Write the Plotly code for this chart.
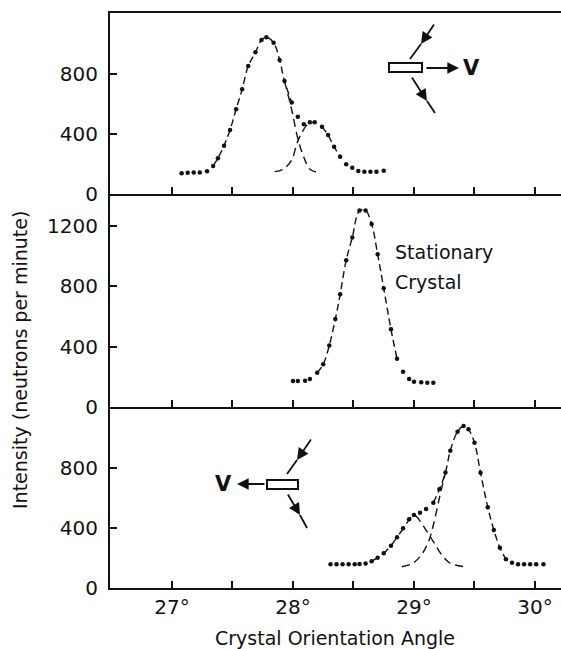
import plotly.graph_objects as go

# ---------------- data ----------------
# Top panel: crystal moving toward +V
top_angle = [27.08, 27.13, 27.18, 27.23, 27.29, 27.34, 27.38, 27.43, 27.48, 27.53,
             27.58, 27.63, 27.69, 27.74, 27.78, 27.84, 27.89, 27.93, 27.99, 28.04,
             28.09, 28.14, 28.18, 28.24, 28.29, 28.34, 28.39, 28.44, 28.49, 28.54,
             28.59, 28.64, 28.69, 28.75]
top_counts = [138, 142, 144, 144, 151, 187, 238, 322, 427, 565,
              698, 853, 945, 1027, 1045, 1009, 893, 753, 611, 515,
              465, 478, 478, 449, 393, 315, 249, 198, 175, 153,
              149, 149, 149, 155]
top_big_angle = [27.93, 27.99, 28.04, 28.09, 28.14, 28.20]
top_big_counts = [753, 560, 370, 245, 165, 145]
top_small_angle = [27.85, 27.92, 27.99, 28.03, 28.07, 28.13, 28.18]
top_small_counts = [149, 165, 227, 330, 405, 471, 478]

# Middle panel: stationary crystal
mid_angle = [28.00, 28.04, 28.10, 28.14, 28.20, 28.25, 28.30, 28.35, 28.39, 28.44,
             28.49, 28.55, 28.60, 28.65, 28.70, 28.75, 28.81, 28.86, 28.91, 28.96,
             29.00, 29.06, 29.11, 29.16]
mid_counts = [172, 172, 174, 186, 227, 283, 407, 583, 747, 973,
              1123, 1302, 1302, 1213, 1012, 787, 515, 320, 234, 186,
              168, 164, 161, 161]

# Bottom panel: crystal moving toward -V
bot_angle = [28.31, 28.36, 28.41, 28.46, 28.51, 28.55, 28.60, 28.65, 28.70, 28.75,
             28.81, 28.86, 28.91, 28.96, 29.00, 29.05, 29.10, 29.16, 29.21, 29.26,
             29.30, 29.36, 29.41, 29.45, 29.50, 29.55, 29.61, 29.66, 29.71, 29.76,
             29.81, 29.86, 29.91, 29.96, 30.01, 30.07]
bot_counts = [158, 158, 158, 158, 158, 160, 164, 178, 202, 231,
              282, 338, 398, 458, 487, 502, 527, 569, 658, 771,
              915, 1042, 1080, 1058, 969, 769, 538, 387, 269, 191,
              169, 158, 158, 158, 158, 158]
bot_small_angle = [28.65, 28.70, 28.75, 28.81, 28.86, 28.91, 28.96, 29.00, 29.09, 29.16, 29.23, 29.30, 29.42]
bot_small_counts = [178, 202, 231, 282, 338, 395, 455, 487, 398, 309, 220, 165, 142]
bot_big_angle = [28.90, 28.99, 29.06, 29.12, 29.16, 29.21, 29.26]
bot_big_counts = [142, 165, 220, 309, 420, 600, 771]

x_ticks = [27, 27.5, 28, 28.5, 29, 29.5, 30]
x_tick_text = ["27°", "", "28°", "", "29°", "", "30°"]

# ---------------- layout geometry ----------------
W, H = 561, 649
PLOT_L, PLOT_T, PLOT_B = 110, 13, 588          # plot box in page pixels
L, T, R, B = PLOT_L, PLOT_T, 0, H - PLOT_B
PW, PH = W - L - R, H - T - B


def px(x):          # page pixel -> paper
    return (x - PLOT_L) / PW


def py(y):
    return (PLOT_B - y) / PH


FONT = "DejaVu Sans"
INK = "#111111"

# line drawn only over the steep parts (tails are dots only)
line_ranges = {
    "top": [(27.33, 27.995), (28.23, 28.42)],
    "mid": [(28.19, 28.87)],
    "bot": [(29.15, 29.77)],
}


def masked(xs, ys, ranges):
    out = []
    for x, y in zip(xs, ys):
        out.append(y if any(a <= x <= b for a, b in ranges) else None)
    return out


fig = go.Figure()


def add_panel(xs, ys, key, xa, ya, comps):
    fig.add_trace(go.Scatter(x=xs, y=masked(xs, ys, line_ranges[key]), mode="lines",
                             line=dict(color=INK, width=1.4, dash="7px,4px", shape="spline"),
                             connectgaps=False, xaxis=xa, yaxis=ya, hoverinfo="skip"))
    for cx, cy in comps:
        fig.add_trace(go.Scatter(x=cx, y=cy, mode="lines",
                                 line=dict(color=INK, width=1.4, dash="8px,5px", shape="spline"),
                                 xaxis=xa, yaxis=ya, hoverinfo="skip"))
    fig.add_trace(go.Scatter(x=xs, y=ys, mode="markers",
                             marker=dict(color=INK, size=4.5),
                             xaxis=xa, yaxis=ya))


add_panel(top_angle, top_counts, "top", "x", "y",
          [(top_big_angle, top_big_counts), (top_small_angle, top_small_counts)])
add_panel(mid_angle, mid_counts, "mid", "x2", "y2", [])
add_panel(bot_angle, bot_counts, "bot", "x3", "y3",
          [(bot_small_angle, bot_small_counts), (bot_big_angle, bot_big_counts)])

xcommon = dict(range=[26.488, 30.215], tickvals=x_ticks, ticks="inside", ticklen=7,
               tickwidth=1.5, tickcolor=INK, showline=True, linewidth=2, linecolor=INK,
               showgrid=False, zeroline=False,
               tickfont=dict(family=FONT, size=20, color=INK))
ycommon = dict(ticks="inside", ticklen=7, tickwidth=1.5, tickcolor=INK, showline=True,
               linewidth=2, linecolor=INK, showgrid=False, zeroline=False,
               ticklabelstandoff=6, tickfont=dict(family=FONT, size=20, color=INK))

fig.update_layout(
    width=W, height=H, margin=dict(l=L, r=R, t=T, b=B, pad=0),
    paper_bgcolor="white", plot_bgcolor="white", showlegend=False,
    xaxis=dict(**xcommon, anchor="y", showticklabels=False, mirror=True),
    xaxis2=dict(**xcommon, anchor="y2", showticklabels=False),
    xaxis3=dict(**xcommon, anchor="y3", ticktext=x_tick_text),
    yaxis=dict(**ycommon, domain=[py(194), 1], range=[0, 1207], tickvals=[0, 400, 800]),
    yaxis2=dict(**ycommon, domain=[py(407), py(194)], range=[0, 1412],
                tickvals=[0, 400, 800, 1200]),
    yaxis3=dict(**ycommon, domain=[0, py(407)], range=[0, 1207], tickvals=[0, 400, 800]),
)

ann = []
shapes = []
# axis titles
ann.append(dict(text="Intensity (neutrons per minute)", x=px(20), y=py(360), xref="paper",
                yref="paper", showarrow=False, textangle=-90, xanchor="center", yanchor="middle",
                font=dict(family=FONT, size=19, color=INK)))
ann.append(dict(text="Crystal Orientation Angle", x=px(335), y=py(638), xref="paper",
                yref="paper", showarrow=False, xanchor="center", yanchor="middle",
                font=dict(family=FONT, size=19, color=INK)))
# stationary label
ann.append(dict(text="Stationary", x=px(393), y=py(252), xref="paper", yref="paper",
                showarrow=False, xanchor="left", yanchor="middle",
                font=dict(family=FONT, size=19, color=INK)))
ann.append(dict(text="Crystal", x=px(393), y=py(282), xref="paper", yref="paper",
                showarrow=False, xanchor="left", yanchor="middle",
                font=dict(family=FONT, size=19, color=INK)))


def arrow(hx, hy, tx, ty):
    ann.append(dict(text="", x=px(hx), y=py(hy), xref="paper", yref="paper",
                    ax=tx - hx, ay=ty - hy, axref="pixel", ayref="pixel", showarrow=True,
                    arrowhead=2, arrowsize=1.3, arrowwidth=1.8, arrowcolor=INK))


def seg(x0, y0, x1, y1):
    shapes.append(dict(type="line", xref="paper", yref="paper", x0=px(x0), y0=py(y0),
                       x1=px(x1), y1=py(y1), line=dict(color=INK, width=1.8)))


def vlabel(x, y):
    ann.append(dict(text="<b>V</b>", x=px(x), y=py(y), xref="paper", yref="paper",
                    showarrow=False, xanchor="center", yanchor="middle",
                    font=dict(family=FONT, size=21, color=INK)))


# top icon (moving right)
shapes.append(dict(type="rect", xref="paper", yref="paper", x0=px(389), y0=py(72),
                   x1=px(422), y1=py(63), line=dict(color=INK, width=2), fillcolor="white"))
arrow(421, 44, 435, 23)
seg(421, 44, 410, 59)
arrow(427, 101, 411, 76)
seg(427, 101, 435, 113)
arrow(459, 68, 425, 68)
vlabel(471, 68)

# bottom icon (moving left)
shapes.append(dict(type="rect", xref="paper", yref="paper", x0=px(267), y0=py(489),
                   x1=px(298), y1=py(480), line=dict(color=INK, width=2), fillcolor="white"))
arrow(297, 460, 312, 438)
seg(297, 460, 287, 474)
arrow(300, 515, 287, 493)
seg(300, 515, 307, 528)
arrow(237, 484, 266, 484)
vlabel(223, 484)

fig.update_layout(annotations=ann, shapes=shapes)
fig.write_html(
    "out.html",
    config={"displayModeBar": False},
    post_script="document.body.style.margin='0';document.body.style.overflow='hidden';",
)
